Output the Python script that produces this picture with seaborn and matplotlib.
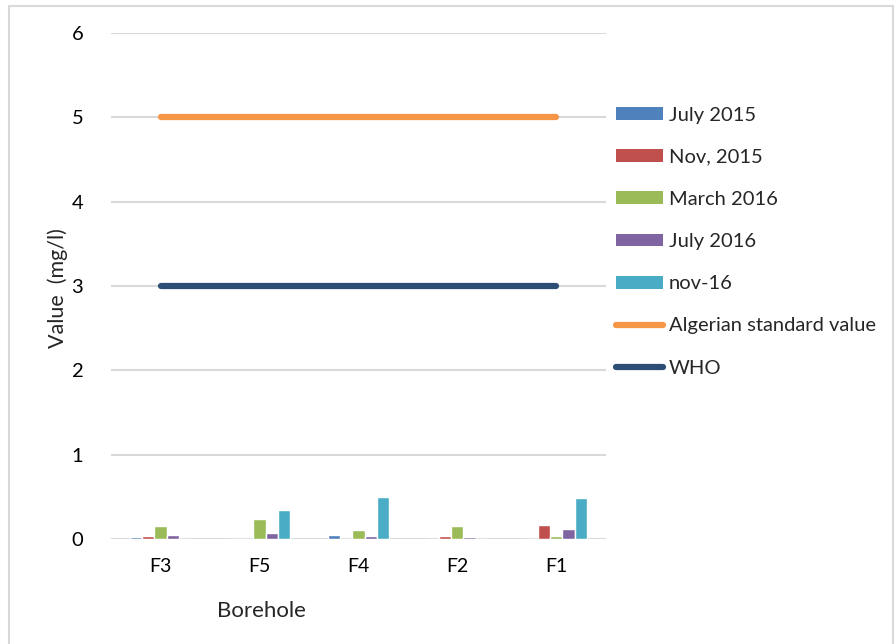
import pandas as pd
import matplotlib
matplotlib.use("Agg")
import matplotlib.pyplot as plt
from matplotlib.patches import Patch
from matplotlib.lines import Line2D
import seaborn as sns

boreholes = ['F3', 'F5', 'F4', 'F2', 'F1']
campaigns = ['July 2015', 'Nov, 2015', 'March 2016', 'July 2016', 'nov-16']
july_2015 = [0.02, 0.0, 0.05, 0.0, 0.0]
nov_2015 = [0.035, 0.0, 0.0, 0.035, 0.17]
march_2016 = [0.16, 0.24, 0.11, 0.15, 0.035]
july_2016 = [0.05, 0.07, 0.035, 0.02, 0.12]
nov_16 = [0.0, 0.35, 0.50, 0.0, 0.49]
algerian = [5, 5, 5, 5, 5]
who = [3, 3, 3, 3, 3]

bar_colors = ['#4F81BD', '#C0504D', '#9BBB59', '#8064A2', '#4BACC6']
alg_color = '#F79646'
who_color = '#2C4D75'

series = [july_2015, nov_2015, march_2016, july_2016, nov_16]
rows = []
for name, vals in zip(campaigns, series):
    for b, v in zip(boreholes, vals):
        rows.append({'Borehole': b, 'Campaign': name, 'Value': v})
df = pd.DataFrame(rows)

sns.set_style('white')
plt.rcParams['font.family'] = ['Lato', 'DejaVu Sans']

fig = plt.figure(figsize=(8.96, 6.44), dpi=100)
ax = fig.add_axes([0.124, 0.163, 0.552, 0.786])

sns.barplot(data=df, x='Borehole', y='Value', hue='Campaign', order=boreholes,
            hue_order=campaigns, palette=bar_colors, width=0.62, ax=ax,
            legend=False, saturation=1)

x = list(range(len(boreholes)))
ax.plot(x, algerian, color=alg_color, lw=4.5, solid_capstyle='round', zorder=3)
ax.plot(x, who, color=who_color, lw=4.5, solid_capstyle='round', zorder=3)

ax.set_ylim(0, 6)
ax.set_xlim(-0.5, 4.5)
ax.set_yticks(range(7))
ax.yaxis.grid(True, color='#D9D9D9', lw=1.5)
ax.set_axisbelow(True)
for s in ['top', 'right', 'left', 'bottom']:
    ax.spines[s].set_visible(False)
ax.tick_params(axis='both', length=0, colors='#000000')
ax.tick_params(axis='y', pad=20, labelsize=14.5)
ax.tick_params(axis='x', pad=14, labelsize=14)
ax.set_xlabel('')
ax.set_ylabel('')

fig.text(0.064, 0.553, 'Value  (mg/l)', rotation=90, ha='center', va='center', fontsize=15.5)
fig.text(0.292, 0.052, 'Borehole', ha='center', va='center', fontsize=16)

handles = [Patch(facecolor=c, edgecolor='none') for c in bar_colors]
handles += [Line2D([0], [0], color=alg_color, lw=4.5, solid_capstyle='round'),
            Line2D([0], [0], color=who_color, lw=4.5, solid_capstyle='round')]
labels = campaigns + ['Algerian standard value', 'WHO']
fig.legend(handles, labels, loc='upper left', bbox_to_anchor=(0.678, 0.847),
           frameon=False, fontsize=14.5, handlelength=2.35, handleheight=0.6,
           handletextpad=0.3, labelspacing=1.25, borderaxespad=0)

border = plt.Rectangle((0.01, -0.01), 0.987, 1.0, transform=fig.transFigure,
                       fill=False, edgecolor='#D9D9D9', lw=1.5)
fig.patches.append(border)

fig.savefig('out.png', dpi=100)
